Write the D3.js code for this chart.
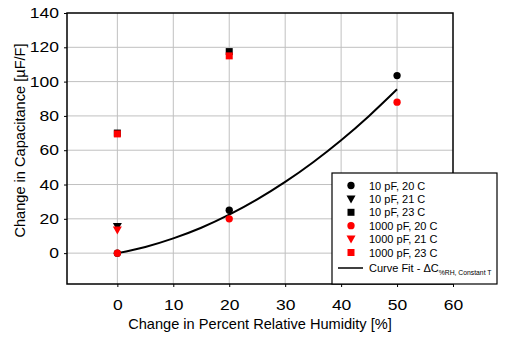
<!DOCTYPE html>
<html>
<head>
<meta charset="utf-8">
<script src="https://cdn.jsdelivr.net/npm/d3@7"></script>
<style>
  body { margin: 0; background: #fff; }
  text { font-family: "Liberation Sans", Arial, sans-serif; fill: #000; }
</style>
</head>
<body>
<svg id="chart"></svg>
<script>
// Humidity steps (% RH) and measured change in capacitance (uF/F)
const rhSteps = [0, 20, 50];
const cap10pF20C = [0, 25, 103.5];
const cap10pF21C = [15.5];
const cap10pF23C = [70, 117.5];
const cap1000pF20C = [0, 20, 88];
const cap1000pF21C = [13.5];
const cap1000pF23C = [69.5, 115];

// Curve fit through the 20 C data
const fitRh = [0, 5, 10, 15, 20, 25, 30, 35, 40, 45, 50];
const fitCap = [0, 3.6, 8.6, 14.8, 22.4, 31.3, 41.5, 53, 65.8, 80, 95.5];

const xTicks = [0, 10, 20, 30, 40, 50, 60];
const yTicks = [0, 20, 40, 60, 80, 100, 120, 140];

const series = [
  { label: "10 pF, 20 C", shape: d3.symbolCircle, color: "#000", values: cap10pF20C },
  { label: "10 pF, 21 C", shape: "tri", color: "#000", values: cap10pF21C },
  { label: "10 pF, 23 C", shape: d3.symbolSquare, color: "#000", values: cap10pF23C },
  { label: "1000 pF, 20 C", shape: d3.symbolCircle, color: "#ff0000", values: cap1000pF20C },
  { label: "1000 pF, 21 C", shape: "tri", color: "#ff0000", values: cap1000pF21C },
  { label: "1000 pF, 23 C", shape: d3.symbolSquare, color: "#ff0000", values: cap1000pF23C }
];

var margin = { top: 13, right: 56, bottom: 55, left: 67 },
    width = 509 - margin.left - margin.right,
    height = 339 - margin.top - margin.bottom;

var svg = d3.select("#chart")
    .attr("width", 509)
    .attr("height", 339)
    .append("g")
    .attr("transform", "translate(" + margin.left + "," + margin.top + ")");

var x = d3.scaleLinear().domain([-9, 60]).range([0, width]);
var y = d3.scaleLinear().domain([-18, 140]).range([height, 0]);

// Grid lines
svg.append("g").selectAll("line")
    .data(xTicks.slice(0, -1))
    .enter().append("line")
    .attr("x1", d => x(d)).attr("x2", d => x(d))
    .attr("y1", 0).attr("y2", height)
    .attr("stroke", "#c0c0c0").attr("stroke-width", 1);

svg.append("g").selectAll("line")
    .data(yTicks.slice(0, -1))
    .enter().append("line")
    .attr("y1", d => y(d)).attr("y2", d => y(d))
    .attr("x1", 0).attr("x2", width)
    .attr("stroke", "#c0c0c0").attr("stroke-width", 1);

// Axes - tick numbers are drawn a bit wide
var stretch = 1.25;
var xAxis = svg.append("g")
    .attr("transform", "translate(0," + height + ")")
    .call(d3.axisBottom(x).tickValues(xTicks).tickSize(3).tickPadding(13));
var yAxis = svg.append("g")
    .call(d3.axisLeft(y).tickValues(yTicks).tickSize(3).tickPadding(5));

[xAxis, yAxis].forEach(function(a) {
    a.select(".domain").remove();
    a.selectAll("line").attr("stroke", "#000");
    a.selectAll("text")
        .style("font-size", "14px")
        .style("font-family", "'Liberation Sans', Arial, sans-serif")
        .attr("x", function() { return (+d3.select(this).attr("x") || 0) / stretch; })
        .attr("transform", "scale(" + stretch + ",1)");
});

// Plot frame
svg.append("rect")
    .attr("width", width).attr("height", height)
    .attr("fill", "none").attr("stroke", "#000").attr("stroke-width", 1.5);

// Axis titles
svg.append("text")
    .attr("x", x(25.5))
    .attr("y", height + 45)
    .attr("text-anchor", "middle")
    .style("font-size", "14.6px")
    .text("Change in Percent Relative Humidity [%]");

svg.append("text")
    .attr("transform", "translate(-42," + (height / 2 - 8) + ") rotate(-90)")
    .attr("text-anchor", "middle")
    .style("font-size", "14.6px")
    .text("Change in Capacitance [\u00b5F/F]");

// Fitted curve
var line = d3.line()
    .x(function(d, i) { return x(fitRh[i]); })
    .y(function(d) { return y(d); })
    .curve(d3.curveMonotoneX);

svg.append("path")
    .datum(fitCap)
    .attr("d", line)
    .attr("fill", "none")
    .attr("stroke", "#000")
    .attr("stroke-width", 2);

// Marker helper
function marker(sel, shape, color) {
    if (shape === "tri") {
        sel.append("path")
            .attr("d", "M-4.5,-3.5L4.5,-3.5L0,4.5Z")
            .attr("fill", color);
    } else {
        sel.append("path")
            .attr("d", d3.symbol().type(shape).size(shape === d3.symbolSquare ? 49 : 42)())
            .attr("fill", color);
    }
}

series.forEach(function(s) {
    s.values.forEach(function(v, i) {
        var g = svg.append("g")
            .attr("transform", "translate(" + x(rhSteps[i]) + "," + y(v) + ")");
        marker(g, s.shape, s.color);
    });
});

// Legend
var legend = svg.append("g")
    .attr("transform", "translate(" + (332 - margin.left) + "," + (173 - margin.top) + ")");

legend.append("rect")
    .attr("width", 165).attr("height", 111)
    .attr("fill", "#fff").attr("stroke", "#000").attr("stroke-width", 1.2);

series.forEach(function(s, i) {
    var row = legend.append("g")
        .attr("transform", "translate(0," + (12.5 + i * 13.4) + ")");
    var m = row.append("g").attr("transform", "translate(19,0)");
    marker(m, s.shape, s.color);
    row.append("text")
        .attr("x", 37).attr("y", 4)
        .style("font-size", "11px")
        .text(s.label);
});

var fitRow = legend.append("g").attr("transform", "translate(0,95)");
fitRow.append("line")
    .attr("x1", 6).attr("x2", 31)
    .attr("stroke", "#000").attr("stroke-width", 1.5);
var fitText = fitRow.append("text")
    .attr("x", 37).attr("y", 4)
    .style("font-size", "11px");
fitText.append("tspan").text("Curve Fit - \u0394C");
fitText.append("tspan")
    .attr("dy", 3)
    .style("font-size", "6.8px")
    .text("%RH, Constant T");
</script>
</body>
</html>
